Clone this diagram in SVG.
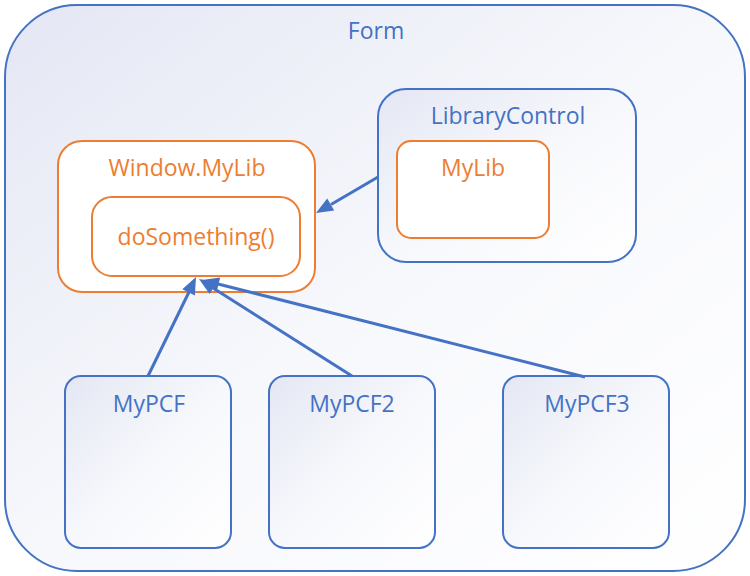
<svg xmlns="http://www.w3.org/2000/svg" width="750" height="576" viewBox="0 0 750 576">
<defs>
<linearGradient id="g" x1="0" y1="0" x2="1" y2="1">
<stop offset="0" stop-color="#e4e7f4"/>
<stop offset="0.5" stop-color="#f7f8fc"/>
<stop offset="1" stop-color="#ffffff"/>
</linearGradient>
<style>
.b{fill:url(#g);stroke:#4472c4;stroke-width:2}
.o{fill:#ffffff;stroke:#ed7d31;stroke-width:2}
.tb{fill:#4472c4;font-family:"Open Sans","Noto Sans",sans-serif;font-size:23px;text-anchor:middle}
.to{fill:#ed7d31;font-family:"Open Sans","Noto Sans",sans-serif;font-size:23px;text-anchor:middle}
.c{stroke:#4472c4;stroke-width:3;fill:none}
.h{fill:#4472c4;stroke:none}
</style>
</defs>
<g id="form">
<rect class="b" x="5" y="5" width="740" height="566" rx="72"/>
<text class="tb" x="376" y="39">Form</text>
</g>
<g id="window-mylib">
<rect class="o" x="58" y="141" width="257" height="151" rx="24"/>
<text class="to" x="187" y="176">Window.MyLib</text>
</g>
<g id="dosomething">
<rect class="o" x="92" y="197" width="208" height="79" rx="20"/>
<text class="to" x="196" y="245">doSomething()</text>
</g>
<g id="librarycontrol">
<rect class="b" x="378" y="89" width="258" height="173" rx="28"/>
<text class="tb" x="508" y="124">LibraryControl</text>
</g>
<g id="mylib">
<rect class="o" x="397" y="141" width="152" height="97" rx="14"/>
<text class="to" x="473" y="176">MyLib</text>
</g>
<g id="mypcf">
<rect class="b" x="65" y="376" width="166" height="172" rx="16"/>
<text class="tb" x="149" y="412">MyPCF</text>
</g>
<g id="mypcf2">
<rect class="b" x="269" y="376" width="166" height="172" rx="16"/>
<text class="tb" x="352" y="412">MyPCF2</text>
</g>
<g id="mypcf3">
<rect class="b" x="503" y="376" width="166" height="172" rx="16"/>
<text class="tb" x="587" y="412">MyPCF3</text>
</g>
<g id="connectors">
<path class="c" d="M378,177 L331,204.5"/>
<polygon class="h" points="316,213 334.2,210.6 327.2,198.4"/>
<path class="c" d="M148,376 L189,292"/>
<polygon class="h" points="196,277 182.3,289.2 194.9,295.4"/>
<path class="c" d="M352,376 L213,288"/>
<polygon class="h" points="199,279 209.6,294 217.1,282.2"/>
<path class="c" d="M585,377 L218,284"/>
<polygon class="h" points="202,280 216.8,291 220.2,277.4"/>
</g>
</svg>
